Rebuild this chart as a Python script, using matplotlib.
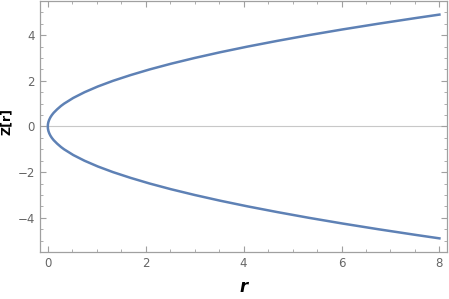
import numpy as np
import matplotlib.pyplot as plt
from matplotlib.ticker import MultipleLocator

# values (upper branch); lower branch is the mirror
z_upper = [0.0, 0.1, 0.2, 0.3, 0.4, 0.5, 0.6, 0.75, 0.9, 1.0, 1.25, 1.5, 1.75, 2.0,
           2.25, 2.5, 2.75, 3.0, 3.25, 3.5, 3.75, 4.0, 4.25, 4.5, 4.75, 4.9]
r_upper = [0.0, 0.003, 0.013, 0.03, 0.053, 0.083, 0.12, 0.19, 0.27, 0.333, 0.52, 0.75,
           1.02, 1.333, 1.69, 2.083, 2.52, 3.0, 3.52, 4.083, 4.69, 5.333, 6.02, 6.75,
           7.52, 8.0]

r_vals = r_upper[::-1] + r_upper[1:]
z_vals = [-z for z in z_upper[::-1]] + z_upper[1:]

fig = plt.figure(figsize=(4.49, 2.99), dpi=100)
ax = fig.add_axes([0.089, 0.157, 0.906, 0.84])

ax.axhline(0, color='#c8c8c8', lw=0.8, zorder=1)
ax.plot(r_vals, z_vals, color='#5e81b5', lw=1.8, solid_joinstyle='round', zorder=3)

ax.set_xlim(-0.16, 8.15)
ax.set_ylim(-5.5, 5.5)
ax.xaxis.set_major_locator(MultipleLocator(2))
ax.xaxis.set_minor_locator(MultipleLocator(0.5))
ax.yaxis.set_major_locator(MultipleLocator(2))
ax.yaxis.set_minor_locator(MultipleLocator(0.5))

frame = '#a0a0a0'
for s in ax.spines.values():
    s.set_color(frame)
    s.set_linewidth(0.9)
ax.tick_params(which='both', direction='in', top=True, right=True,
               color=frame, labelcolor='#666666', labelsize=8.5)
ax.tick_params(which='major', length=4.5, width=0.8)
ax.tick_params(which='minor', length=2.5, width=0.6)

ax.set_xlabel('r', fontsize=12, fontweight='bold', fontstyle='italic', color='black', labelpad=6)
ax.set_ylabel('Z[r]', fontsize=9, fontweight='bold', color='black', labelpad=2)
ax.yaxis.set_label_coords(-0.067, 0.52)

fig.savefig('out.png', dpi=100)
